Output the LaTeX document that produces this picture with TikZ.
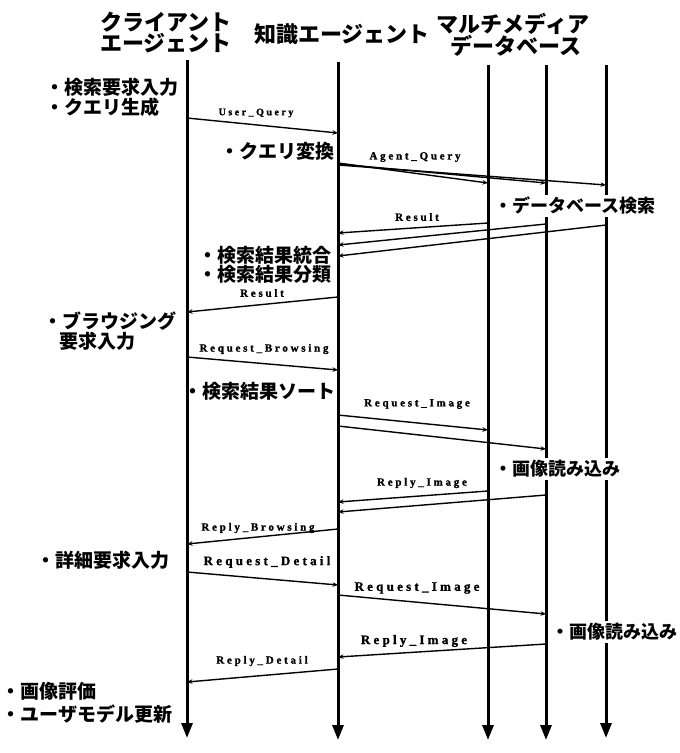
\documentclass[tikz,border=0pt]{standalone}
\usepackage{fontspec}
\usetikzlibrary{arrows.meta}
\newfontfamily\jpfont{Noto Sans CJK JP}[BoldFont=* Black]
\newfontfamily\lblfont{Liberation Serif}[LetterSpace=25,BoldFeatures={FakeBold=1.3}]
\begin{document}
\begin{tikzpicture}[x=1pt,y=-1pt,
  life/.style={line width=3pt,-{Triangle[length=15pt,width=11pt]}},
  msg/.style={line width=1.4pt,-{Stealth[length=5.5pt,width=4.5pt]}},
  ttl/.style={font=\jpfont\bfseries\fontsize{22}{24}\selectfont,inner sep=0pt},
  ann/.style={font=\jpfont\bfseries\fontsize{19}{22}\selectfont,inner sep=0pt,anchor=west},
  dbann/.style={font=\jpfont\bfseries\fontsize{18}{21}\selectfont,fill=white,inner xsep=0pt,inner ysep=2.5pt,anchor=west},
  lbl/.style={font=\lblfont\bfseries\fontsize{11}{13}\selectfont,inner sep=0pt},
  lblb/.style={font=\lblfont\bfseries\fontsize{13}{15}\selectfont,inner sep=0pt}]
\useasboundingbox (0,0) rectangle (680,753);
% titles
\node[ttl] (tc1) at (166,22) {クライアント};
\node[ttl] (tc2) at (166,43) {エージェント};
\node[ttl] (tk) at (342,34) {知識エージェント};
\node[ttl] (td1) at (513,24) {マルチメディア};
\node[ttl] (td2) at (516,46) {データベース};
% lifelines
\coordinate (Ct) at (187,60);  \coordinate (Cb) at (187,738);
\coordinate (Kt) at (338,62);  \coordinate (Kb) at (338,740);
\coordinate (D1t) at (488,65); \coordinate (D1b) at (488,740);
\coordinate (D2t) at (546,65); \coordinate (D2b) at (546,740);
\coordinate (D3t) at (606,65); \coordinate (D3b) at (606,738);
\draw[life] (Ct) -- (Cb);
\draw[life] (Kt) -- (Kb);
\draw[life] (D1t) -- (D1b);
\draw[life] (D2t) -- (D2b);
\draw[life] (D3t) -- (D3b);
% annotations
\node[ann] (a1) at (45.5,87) {・検索要求入力};
\node[ann] (a2) at (45.5,107) {・クエリ生成};
\node[ann] (a3) at (220.5,151) {・クエリ変換};
\node[ann] (a4) at (198.5,255) {・検索結果統合};
\node[ann] (a5) at (198.5,274) {・検索結果分類};
\node[ann] (a6) at (43.5,321) {・ブラウジング};
\node[ann] (a7) at (59,341) {要求入力};
\node[ann] (a8) at (183.5,391) {・検索結果ソート};
\node[ann] (a9) at (36.5,560) {・詳細要求入力};
\node[ann] (a10) at (1.5,691) {・画像評価};
\node[ann] (a11) at (1.5,714) {・ユーザモデル更新};
\node[dbann] (b1) at (494,206) {・データベース検索};
\node[dbann] (b2) at (494,469) {・画像読み込み};
\node[dbann] (b3) at (551,632) {・画像読み込み};
% messages
\coordinate (m1a) at (187,118); \coordinate (m1b) at (338,133);
\draw[msg] (m1a) -- (m1b);
\node[lbl,font=\lblfont\bfseries\fontsize{10}{12}\selectfont] (l1) at (256,113) {User\_Query};
\coordinate (m2a) at (338,163); \coordinate (m2b) at (488,183);
\coordinate (m2c) at (338,164); \coordinate (m2d) at (546,183);
\coordinate (m2e) at (338,165); \coordinate (m2f) at (606,185);
\draw[msg] (m2a) -- (m2b);
\draw[msg] (m2c) -- (m2d);
\draw[msg] (m2e) -- (m2f);
\node[lbl] (l2) at (415,157) {Agent\_Query};
\coordinate (m3a) at (488,223); \coordinate (m3b) at (338,233);
\coordinate (m3c) at (546,224); \coordinate (m3d) at (338,245);
\coordinate (m3e) at (606,225); \coordinate (m3f) at (338,256);
\draw[msg] (m3a) -- (m3b);
\draw[msg] (m3c) -- (m3d);
\draw[msg] (m3e) -- (m3f);
\node[lbl] (l3) at (417,217) {Result};
\coordinate (m4a) at (338,297); \coordinate (m4b) at (187,312);
\draw[msg] (m4a) -- (m4b);
\node[lbl] (l4) at (262,293) {Result};
\coordinate (m5a) at (187,357); \coordinate (m5b) at (338,370);
\draw[msg] (m5a) -- (m5b);
\node[lbl] (l5) at (264,349) {Request\_Browsing};
\coordinate (m6a) at (338,415); \coordinate (m6b) at (488,430);
\coordinate (m6c) at (338,426); \coordinate (m6d) at (546,449);
\draw[msg] (m6a) -- (m6b);
\draw[msg] (m6c) -- (m6d);
\node[lbl] (l6) at (417,404) {Request\_Image};
\coordinate (m7a) at (488,491); \coordinate (m7b) at (338,502);
\coordinate (m7c) at (546,495); \coordinate (m7d) at (338,512);
\draw[msg] (m7a) -- (m7b);
\draw[msg] (m7c) -- (m7d);
\node[lbl] (l7) at (422,483) {Reply\_Image};
\coordinate (m8a) at (338,529); \coordinate (m8b) at (187,544);
\draw[msg] (m8a) -- (m8b);
\node[lbl] (l8) at (258,528) {Reply\_Browsing};
\coordinate (m9a) at (187,572); \coordinate (m9b) at (338,585);
\draw[msg] (m9a) -- (m9b);
\node[lblb] (l9) at (267,562) {Request\_Detail};
\coordinate (m10a) at (338,595); \coordinate (m10b) at (546,614);
\draw[msg] (m10a) -- (m10b);
\node[lblb] (l10) at (417,588) {Request\_Image};
\coordinate (m11a) at (546,644); \coordinate (m11b) at (338,657);
\draw[msg] (m11a) -- (m11b);
\node[lblb] (l11) at (414,641) {Reply\_Image};
\coordinate (m12a) at (338,669); \coordinate (m12b) at (187,682);
\draw[msg] (m12a) -- (m12b);
\node[lbl] (l12) at (262,661) {Reply\_Detail};
\end{tikzpicture}
\end{document}
